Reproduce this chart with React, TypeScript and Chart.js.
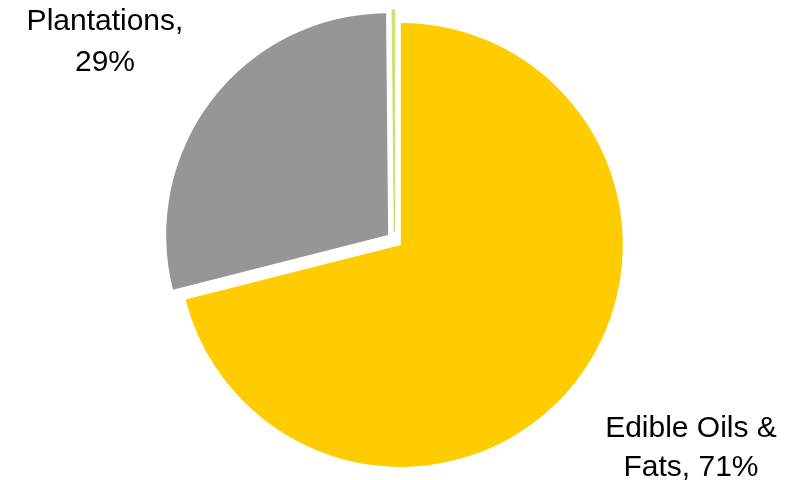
import React, { useEffect, useRef } from "react";
import { Chart, registerables } from "chart.js";

Chart.register(...registerables);

const categories = ["Edible Oils & Fats", "Plantations", "Other"];
const values = [71.05, 28.8, 0.15];
const colors = ["#FFCC00", "#969696", "#CCE070"];
const borderWidths = [0, 0, 1.5];
const explode = [8, 8, 8];
const labelLines = [
  { lines: ["Plantations,", "29%"], x: 105, y: [30, 71] },
  { lines: ["Edible Oils &", "Fats, 71%"], x: 691, y: [437, 476] },
];

// Draws each arc shifted radially (exploded pie) without Chart.js's radius growth.
const explodePlugin = {
  id: "explode",
  beforeDatasetsDraw(chart: any) {
    const ctx = chart.ctx;
    const meta = chart.getDatasetMeta(0);
    meta.data.forEach((arc: any, i: number) => {
      const mid = (arc.startAngle + arc.endAngle) / 2;
      const d = explode[i] || 0;
      ctx.save();
      ctx.translate(Math.cos(mid) * d, Math.sin(mid) * d);
      arc.draw(ctx);
      ctx.restore();
    });
    return false;
  },
};

const labelPlugin = {
  id: "sliceLabels",
  afterDraw(chart: any) {
    const ctx = chart.ctx;
    ctx.save();
    ctx.fillStyle = "#000";
    ctx.font = "30px 'Liberation Sans', Arial, sans-serif";
    ctx.textAlign = "center";
    ctx.textBaseline = "alphabetic";
    for (const l of labelLines) {
      l.lines.forEach((t, i) => ctx.fillText(t, l.x, l.y[i]));
    }
    ctx.restore();
  },
};

export default function App() {
  const ref = useRef<HTMLCanvasElement>(null);
  useEffect(() => {
    const chart = new Chart(ref.current!, {
      type: "pie",
      data: {
        labels: categories,
        datasets: [
          {
            data: values,
            backgroundColor: colors,
            borderColor: colors,
            borderWidth: borderWidths,
            radius: 222,
          },
        ],
      },
      options: {
        animation: false,
        responsive: false,
        layout: { padding: { left: 0, right: 6, top: 0, bottom: 0 } },
        plugins: { legend: { display: false }, tooltip: { enabled: false } },
      } as any,
      plugins: [explodePlugin, labelPlugin],
    });
    return () => chart.destroy();
  }, []);
  return (
    <div style={{ position: "absolute", left: 0, top: 0, width: 795, height: 480, background: "#fff" }}>
      <canvas ref={ref} width={795} height={480} style={{ width: 795, height: 480 }} />
    </div>
  );
}
